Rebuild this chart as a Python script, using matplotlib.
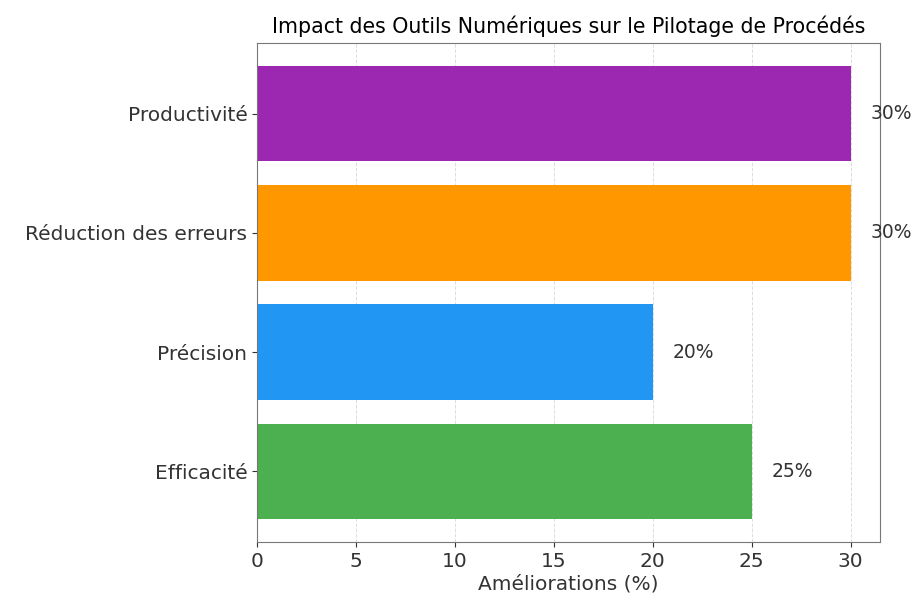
import matplotlib
matplotlib.use('Agg')
from matplotlib import pyplot as plt

# data
categories = ['Efficacité', 'Précision', 'Réduction des erreurs', 'Productivité']
values = [25, 20, 30, 30]
colors = ['#4CAF50', '#2196F3', '#FF9800', '#9C27B0']

plt.rcParams['font.family'] = ['DejaVu Sans']

fig = plt.figure(figsize=(9.15, 6), dpi=100)
ax = fig.add_axes([0.281, 0.097, 0.681, 0.831])

bars = ax.barh(categories, values, color=colors, height=0.8, zorder=2)
for bar, v in zip(bars, values):
    ax.text(v + 1, bar.get_y() + bar.get_height() / 2, '%d%%' % v,
            va='center', ha='left', fontsize=13.5, color='#333333')

ax.set_xlim(0, 31.5)
ax.grid(axis='x', linestyle='--', color='#dddddd', linewidth=0.7, zorder=0)
ax.set_xlabel('Améliorations (%)', fontsize=14.5, color='#333333', labelpad=3)
ax.set_title('Impact des Outils Numériques sur le Pilotage de Procédés', fontsize=14.8, pad=7)
ax.tick_params(axis='both', labelsize=14.5, colors='#333333')
for s in ax.spines.values():
    s.set_color('#777777')

fig.savefig('out.png', dpi=100)
